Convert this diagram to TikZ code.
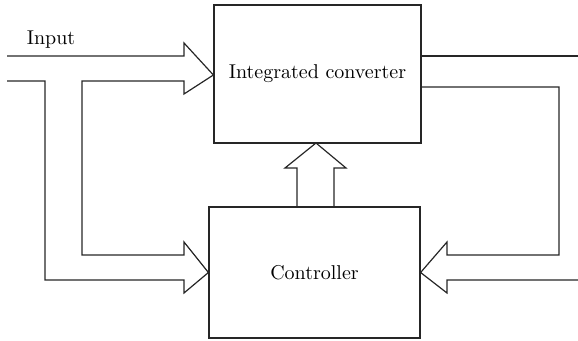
\documentclass[tikz,border=0pt]{standalone}
\usetikzlibrary{positioning}

\begin{document}
\begin{tikzpicture}[
  x=0.5pt, y=-0.5pt,
  block/.style={
    rectangle,
    draw=black!85,
    line width=0.6pt,
    inner sep=0pt,
    align=center,
    font=\fontsize{10}{12}\selectfont
  },
  hollow/.style={draw=black!85, line width=0.6pt, line join=miter},
  label/.style={font=\fontsize{10}{12}\selectfont, inner sep=0pt}
]

\useasboundingbox (0,0) rectangle (578,341);

\node[block, minimum width=103.5pt, minimum height=69pt] (conv) at (317.5,74) {Integrated converter};
\node[block, minimum width=105.5pt, minimum height=65.5pt] (ctrl) at (314.5,272.5) {Controller};
\node[label, anchor=base] (input) at (51,45) {Input};

% input, split to converter and controller
\draw[hollow] (7,56) -- (184,56) -- (184,43) -- (conv.west |- 0,75) -- (184,94) -- (184,81)
  -- (82,81) -- (82,255) -- (184,255) -- (184,242) -- (ctrl.west) -- (184,293) -- (184,280)
  -- (45,280) -- (45,81) -- (7,81);

% output and feedback
\draw[hollow] (conv.east |- 0,56) -- (578,56);
\draw[hollow] (conv.east |- 0,87) -- (559,87) -- (559,255) -- (447,255) -- (447,242)
  -- (ctrl.east) -- (447,293) -- (447,280) -- (578,280);

% controller to converter
\draw[hollow] (ctrl.north -| 297,0) -- (297,168) -- (285,168) -- (316,143) -- (346,168)
  -- (334,168) -- (ctrl.north -| 334,0);

\end{tikzpicture}
\end{document}
